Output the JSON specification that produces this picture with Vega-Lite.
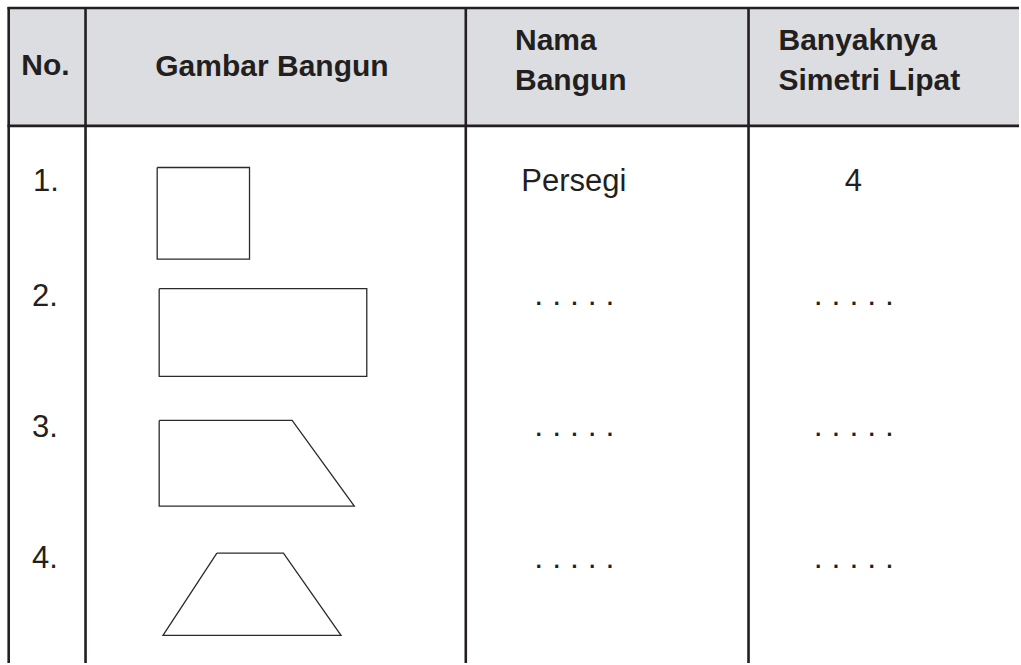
{
  "$schema": "https://vega.github.io/schema/vega-lite/v6.json",
  "width": 1021,
  "height": 665,
  "padding": 0,
  "autosize": {"type": "fit", "contains": "padding"},
  "background": "white",
  "config": {"view": {"stroke": null}},
  "datasets": {
    "bg": [{"x": 9, "x2": 1021, "y": 8, "y2": 126}],
    "rules": [
      {"x": 7.5, "x2": 1021, "y": 8, "y2": 8},
      {"x": 7.5, "x2": 1021, "y": 126.3, "y2": 126.3},
      {"x": 8.7, "x2": 8.7, "y": 7, "y2": 665},
      {"x": 85.7, "x2": 85.7, "y": 7, "y2": 665},
      {"x": 466.7, "x2": 466.7, "y": 7, "y2": 665},
      {"x": 750, "x2": 750, "y": 7, "y2": 665}
    ],
    "shapes": [
      {"shape": "persegi", "i": 0, "x": 157.5, "y": 168},
      {"shape": "persegi", "i": 1, "x": 250, "y": 168},
      {"shape": "persegi", "i": 2, "x": 250, "y": 260},
      {"shape": "persegi", "i": 3, "x": 157.5, "y": 260},
      {"shape": "persegi", "i": 4, "x": 157.5, "y": 168},
      {"shape": "persegi panjang", "i": 0, "x": 159.5, "y": 289.5},
      {"shape": "persegi panjang", "i": 1, "x": 367.5, "y": 289.5},
      {"shape": "persegi panjang", "i": 2, "x": 367.5, "y": 377.5},
      {"shape": "persegi panjang", "i": 3, "x": 159.5, "y": 377.5},
      {"shape": "persegi panjang", "i": 4, "x": 159.5, "y": 289.5},
      {"shape": "trapesium siku", "i": 0, "x": 159.5, "y": 421.7},
      {"shape": "trapesium siku", "i": 1, "x": 292.7, "y": 421.7},
      {"shape": "trapesium siku", "i": 2, "x": 355, "y": 507.7},
      {"shape": "trapesium siku", "i": 3, "x": 159.5, "y": 507.7},
      {"shape": "trapesium siku", "i": 4, "x": 159.5, "y": 421.7},
      {"shape": "trapesium sama kaki", "i": 0, "x": 217.3, "y": 554.7},
      {"shape": "trapesium sama kaki", "i": 1, "x": 284, "y": 554.7},
      {"shape": "trapesium sama kaki", "i": 2, "x": 341.7, "y": 637.3},
      {"shape": "trapesium sama kaki", "i": 3, "x": 163.3, "y": 637.3},
      {"shape": "trapesium sama kaki", "i": 4, "x": 217.3, "y": 554.7}
    ],
    "headC": [
      {"label": "No.", "x": 45.5, "y": 75.5},
      {"label": "Gambar Bangun", "x": 272.5, "y": 76}
    ],
    "headL": [
      {"label": "Nama", "x": 516, "y": 50},
      {"label": "Bangun", "x": 516, "y": 90},
      {"label": "Banyaknya", "x": 780, "y": 50},
      {"label": "Simetri Lipat", "x": 780, "y": 90}
    ],
    "cells": [
      {"label": "1.", "x": 46, "y": 192},
      {"label": "2.", "x": 45, "y": 306.5},
      {"label": "3.", "x": 45, "y": 438},
      {"label": "4.", "x": 45, "y": 570},
      {"label": "Persegi", "x": 575, "y": 192},
      {"label": "4", "x": 855, "y": 192}
    ],
    "dots": [
      {"label": ". . . . .", "x": 575.5, "y": 306},
      {"label": ". . . . .", "x": 855.5, "y": 306},
      {"label": ". . . . .", "x": 575.5, "y": 437.5},
      {"label": ". . . . .", "x": 855.5, "y": 437.5},
      {"label": ". . . . .", "x": 575.5, "y": 569.5},
      {"label": ". . . . .", "x": 855.5, "y": 569.5}
    ]
  },
  "encoding": {
    "x": {"field": "x", "type": "quantitative", "axis": null, "scale": {"domain": [0, 1021], "nice": false, "zero": false}},
    "y": {"field": "y", "type": "quantitative", "axis": null, "scale": {"domain": [0, 665], "nice": false, "zero": false, "reverse": true}}
  },
  "layer": [
    {
      "data": {"name": "bg"},
      "mark": {"type": "rect", "fill": "#dcdde0", "stroke": null},
      "encoding": {"x2": {"field": "x2"}, "y2": {"field": "y2"}}
    },
    {
      "data": {"name": "rules"},
      "mark": {"type": "rule", "color": "#231f20", "strokeWidth": 2.6},
      "encoding": {"x2": {"field": "x2"}, "y2": {"field": "y2"}}
    },
    {
      "data": {"name": "shapes"},
      "mark": {"type": "line", "color": "#2b2b2b", "strokeWidth": 1.3, "strokeJoin": "miter"},
      "encoding": {
        "detail": {"field": "shape", "type": "nominal"},
        "order": {"field": "i", "type": "quantitative"}
      }
    },
    {
      "data": {"name": "headC"},
      "mark": {"type": "text", "font": "Liberation Sans", "fontWeight": "bold", "fontSize": 30, "align": "center", "baseline": "alphabetic", "color": "#231f20"},
      "encoding": {"text": {"field": "label"}}
    },
    {
      "data": {"name": "headL"},
      "mark": {"type": "text", "font": "Liberation Sans", "fontWeight": "bold", "fontSize": 30, "align": "left", "baseline": "alphabetic", "color": "#231f20"},
      "encoding": {"text": {"field": "label"}}
    },
    {
      "data": {"name": "cells"},
      "mark": {"type": "text", "font": "Liberation Sans", "fontSize": 31, "align": "center", "baseline": "alphabetic", "color": "#231f20"},
      "encoding": {"text": {"field": "label"}}
    },
    {
      "data": {"name": "dots"},
      "mark": {"type": "text", "font": "Liberation Sans", "fontSize": 32, "align": "center", "baseline": "alphabetic", "color": "#231f20"},
      "encoding": {"text": {"field": "label"}}
    }
  ]
}
